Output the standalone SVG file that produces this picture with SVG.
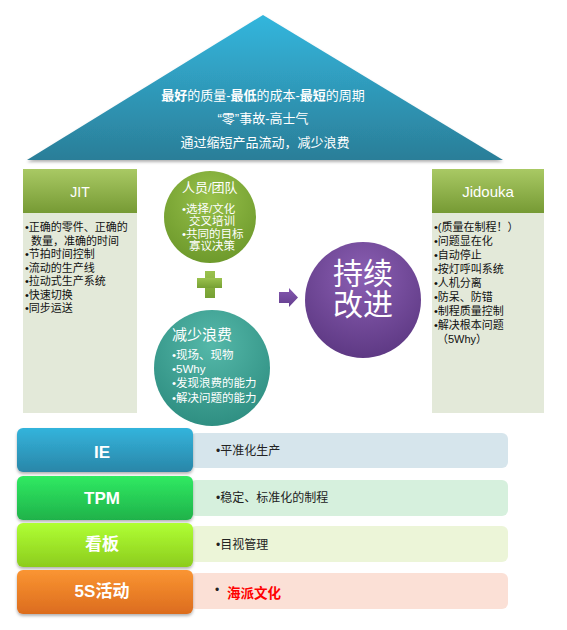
<svg xmlns="http://www.w3.org/2000/svg" width="567" height="630" viewBox="0 0 567 630">
<defs>
<linearGradient id="gRoof" x1="0" y1="0" x2="0" y2="1"><stop offset="0" stop-color="#33b6dd"/><stop offset="1" stop-color="#2b7e98"/></linearGradient>
<linearGradient id="gHead" x1="0" y1="0" x2="0" y2="1"><stop offset="0" stop-color="#a9c964"/><stop offset="1" stop-color="#769a34"/></linearGradient>
<radialGradient id="gGreen" cx="0.5" cy="0.3" r="0.7"><stop offset="0" stop-color="#97c04a"/><stop offset="1" stop-color="#6e9a2c"/></radialGradient>
<radialGradient id="gTeal" cx="0.5" cy="0.3" r="0.7"><stop offset="0" stop-color="#55b8a9"/><stop offset="1" stop-color="#2f8f82"/></radialGradient>
<radialGradient id="gPurple" cx="0.5" cy="0.3" r="0.7"><stop offset="0" stop-color="#8b5fb3"/><stop offset="1" stop-color="#5e3984"/></radialGradient>
<linearGradient id="gPlus" x1="0" y1="0" x2="0" y2="1"><stop offset="0" stop-color="#9bc24e"/><stop offset="1" stop-color="#76a033"/></linearGradient>
<linearGradient id="gArrow" x1="0" y1="0" x2="0" y2="1"><stop offset="0" stop-color="#8458b0"/><stop offset="1" stop-color="#643e8e"/></linearGradient>
<linearGradient id="gIE" x1="0" y1="0" x2="0" y2="1"><stop offset="0" stop-color="#33b4dc"/><stop offset="1" stop-color="#2a86a8"/></linearGradient>
<linearGradient id="gTPM" x1="0" y1="0" x2="0" y2="1"><stop offset="0" stop-color="#30ea62"/><stop offset="1" stop-color="#1fb24a"/></linearGradient>
<linearGradient id="gKB" x1="0" y1="0" x2="0" y2="1"><stop offset="0" stop-color="#b0ff34"/><stop offset="1" stop-color="#8ccc1e"/></linearGradient>
<linearGradient id="g5S" x1="0" y1="0" x2="0" y2="1"><stop offset="0" stop-color="#fa9532"/><stop offset="1" stop-color="#dc6c1e"/></linearGradient>
<filter id="sh" x="-10%" y="-10%" width="120%" height="130%"><feDropShadow dx="0" dy="2" stdDeviation="1.5" flood-color="#000" flood-opacity="0.3"/></filter>
</defs>
<style>
text{font-family:"Liberation Sans","Noto Sans CJK SC",sans-serif;}
.w{fill:#fff;}
.roof{font-size:13px;fill:#fff;text-anchor:middle;}
.item{font-size:11px;fill:#111;}
.ci{font-size:11.5px;fill:#fff;}
.lab{font-size:17px;font-weight:bold;fill:#fff;text-anchor:middle;}
.rt{font-size:12px;fill:#222;}
.body{fill:#e3e9d9;}
</style>
<rect width="567" height="630" fill="#fff"/>

<g id="roof">
<polygon points="27,160 263,15 503,160" fill="url(#gRoof)" filter="url(#sh)"/>
<text class="roof" x="263" y="100"><tspan font-weight="bold">最好</tspan>的质量-<tspan font-weight="bold">最低</tspan>的成本-<tspan font-weight="bold">最短</tspan>的周期</text>
<text class="roof" x="263" y="123">“零”事故-高士气</text>
<text class="roof" x="265" y="147">通过缩短产品流动，减少浪费</text>
</g>

<g id="jit">
<rect x="23" y="213" width="114" height="200" class="body"/>
<rect x="23" y="169" width="114" height="44" fill="url(#gHead)"/>
<text x="80" y="197" class="w" font-size="14" text-anchor="middle">JIT</text>
<text class="item" x="25" y="231">•正确的零件、正确的</text>
<text class="item" x="31" y="245">数量，准确的时间</text>
<text class="item" x="25" y="258">•节拍时间控制</text>
<text class="item" x="25" y="272">•流动的生产线</text>
<text class="item" x="25" y="285">•拉动式生产系统</text>
<text class="item" x="25" y="299">•快速切换</text>
<text class="item" x="25" y="312">•同步运送</text>
</g>

<g id="jidouka">
<rect x="432" y="213" width="112" height="200" class="body"/>
<rect x="432" y="169" width="112" height="44" fill="url(#gHead)"/>
<text x="488" y="197" class="w" font-size="15" text-anchor="middle">Jidouka</text>
<text class="item" x="434" y="231">•(质量在制程！）</text>
<text class="item" x="434" y="245">•问题显在化</text>
<text class="item" x="434" y="259">•自动停止</text>
<text class="item" x="434" y="273">•按灯呼叫系统</text>
<text class="item" x="434" y="287">•人机分离</text>
<text class="item" x="434" y="301">•防呆、防错</text>
<text class="item" x="434" y="315">•制程质量控制</text>
<text class="item" x="434" y="329">•解决根本问题</text>
<text class="item" x="437" y="343">（5Why）</text>
</g>

<g id="people">
<circle cx="210" cy="217" r="46" fill="url(#gGreen)"/>
<text class="w" font-size="13" x="182" y="192">人员/团队</text>
<text class="ci" x="182" y="213">•选择/文化</text>
<text class="ci" x="189" y="225">交叉培训</text>
<text class="ci" x="182" y="238">•共同的目标</text>
<text class="ci" x="189" y="250">寡议决策</text>
</g>

<g id="plus">
<rect x="205" y="271" width="10" height="27" fill="url(#gPlus)"/>
<rect x="197" y="278" width="25" height="10" fill="url(#gPlus)"/>
</g>

<g id="waste">
<circle cx="212" cy="368" r="58" fill="url(#gTeal)"/>
<text class="w" font-size="15" x="172" y="340">减少浪费</text>
<text class="ci" x="172" y="359">•现场、现物</text>
<text class="ci" font-size="9.5" x="172" y="373">•5Why</text>
<text class="ci" x="172" y="387">•发现浪费的能力</text>
<text class="ci" x="172" y="402">•解决问题的能力</text>
</g>

<g id="connectors">
<polygon points="279,292 289,292 289,288 298,297.5 289,307 289,303 279,303" fill="url(#gArrow)"/>
</g>

<g id="improve">
<circle cx="363" cy="300" r="58" fill="url(#gPurple)"/>
<text class="w" font-size="30" x="363" y="284" text-anchor="middle">持续</text>
<text class="w" font-size="30" x="363" y="315" text-anchor="middle">改进</text>
</g>

<g id="ie">
<rect x="190" y="433" width="318" height="35" rx="6" fill="#d6e5ec"/>
<rect x="17" y="428" width="176" height="44" rx="6" fill="url(#gIE)" filter="url(#sh)"/>
<text class="lab" x="102" y="458">IE</text>
<text class="rt" x="216" y="455">•平准化生产</text>
</g>

<g id="tpm">
<rect x="190" y="480" width="318" height="36" rx="6" fill="#d6f0dd"/>
<rect x="17" y="476" width="176" height="44" rx="6" fill="url(#gTPM)" filter="url(#sh)"/>
<text class="lab" x="102" y="504">TPM</text>
<text class="rt" x="216" y="502">•稳定、标准化的制程</text>
</g>

<g id="kanban">
<rect x="190" y="526" width="318" height="36" rx="6" fill="#ecf5d8"/>
<rect x="17" y="523" width="176" height="44" rx="6" fill="url(#gKB)" filter="url(#sh)"/>
<text class="lab" x="102" y="550" font-size="18">看板</text>
<text class="rt" x="216" y="549">•目视管理</text>
</g>

<g id="s5">
<rect x="190" y="573" width="318" height="36" rx="6" fill="#fbe0d6"/>
<rect x="17" y="570" width="176" height="44" rx="6" fill="url(#g5S)" filter="url(#sh)"/>
<text class="lab" x="102" y="597">5S活动</text>
<text class="rt" x="215" y="594">•</text>
<text x="227" y="598" font-size="13.5" font-weight="bold" fill="#ff0000">海派文化</text>
</g>
</svg>
